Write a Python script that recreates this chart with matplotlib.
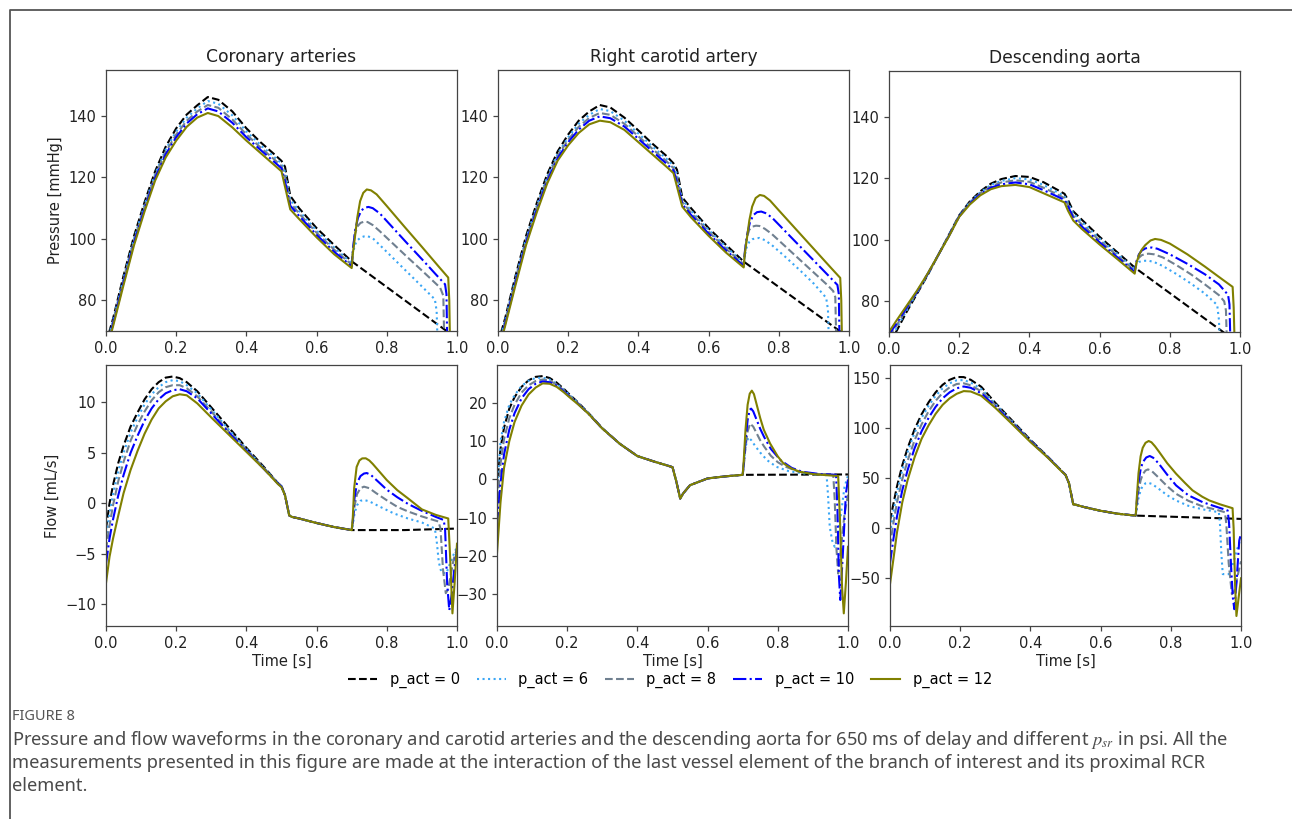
import matplotlib
matplotlib.use("Agg")
import matplotlib.pyplot as plt
from matplotlib.lines import Line2D

plt.rcParams['font.family'] = ['DejaVu Sans']
plt.rcParams['mathtext.fontset'] = 'stix'

# ---------------- data ----------------
labels = ["p_act = 0", "p_act = 6", "p_act = 8", "p_act = 10", "p_act = 12"]
colors = ["black", "#3aa6f5", "slategray", "blue", "olive"]
styles = ["--", ":", "--", "-.", "-"]

titles = ["Coronary arteries", "Right carotid artery", "Descending aorta"]
xticks = [0.0, 0.2, 0.4, 0.6, 0.8, 1.0]

# phase A time grids (0 -> 0.70 s)
TA_P = [0, 0.02, 0.05, 0.08, 0.11, 0.14, 0.17, 0.20, 0.23, 0.26, 0.29, 0.32, 0.36,
        0.40, 0.44, 0.48, 0.50, 0.51, 0.525, 0.55, 0.60, 0.65, 0.70]
TA_F = [0, 0.01, 0.02, 0.035, 0.05, 0.07, 0.09, 0.11, 0.13, 0.15, 0.17, 0.19, 0.21,
        0.23, 0.26, 0.30, 0.35, 0.40, 0.45, 0.49, 0.50, 0.51, 0.522, 0.53, 0.55,
        0.60, 0.65, 0.70]

# ---- Coronary pressure ----
cor_p_A = [
    [66, 74, 88, 101, 112, 122, 130, 136, 140.5, 143.5, 146.2, 145.3, 141.5, 136, 131.5, 127.5, 125.4, 123.5, 114, 110, 103.5, 98, 92.7],
    [65.2, 73.4, 87.2, 100.2, 111.2, 121.2, 129.1, 135, 139.5, 142.5, 144.9, 144, 140.2, 135, 130.6, 126.6, 124.6, 121.9, 112.9, 109.1, 102.7, 97.2, 92.1],
    [64.5, 72.8, 86.5, 99.5, 110.5, 120.5, 128.3, 134, 138.5, 141.5, 143.6, 142.7, 138.9, 134, 129.8, 125.8, 123.7, 120.3, 111.8, 108.3, 102, 96.5, 91.6],
    [63.8, 72.2, 85.8, 98.8, 109.8, 119.8, 127.5, 133.1, 137.6, 140.6, 142.5, 141.5, 137.8, 133.1, 129, 125, 123, 118.8, 110.8, 107.5, 101.3, 95.8, 91.1],
    [63, 71.5, 85, 98, 109, 119, 126.5, 132, 136.5, 139.5, 141, 140, 136.3, 132, 128, 124, 122, 117, 109.6, 106.5, 100.5, 95, 90.5],
]
cor_p_Bt = [
    [0.70, 1.0],
    [0.70, 0.704, 0.709, 0.716, 0.725, 0.735, 0.745, 0.76, 0.78, 0.82, 0.86, 0.90, 0.937, 0.942, 0.945, 1.0],
    [0.70, 0.704, 0.709, 0.716, 0.725, 0.735, 0.745, 0.76, 0.78, 0.82, 0.86, 0.90, 0.94, 0.952, 0.961, 0.964, 1.0],
    [0.70, 0.704, 0.71, 0.718, 0.728, 0.738, 0.748, 0.76, 0.78, 0.82, 0.86, 0.90, 0.94, 0.966, 0.970, 0.973, 1.0],
    [0.70, 0.703, 0.709, 0.716, 0.724, 0.733, 0.743, 0.755, 0.771, 0.80, 0.85, 0.90, 0.95, 0.975, 0.978, 0.981, 1.0],
]
cor_p_Bv = [
    [92.7, 67.5],
    [92.1, 95.5, 98, 99.5, 100.4, 100.8, 100.9, 100.2, 98, 93.5, 89, 84.5, 80.3, 76.5, 65, 50],
    [91.6, 97, 101.5, 104, 105.2, 105.6, 105.5, 104.5, 102.5, 98.2, 93.9, 89.7, 85.4, 84.1, 81.5, 65, 50],
    [91.1, 97, 103, 106.9, 109.3, 110.2, 110.4, 110, 108.3, 103.3, 98.3, 93.4, 88.4, 85.2, 82, 60, 50],
    [90.5, 95, 100.4, 107, 112.3, 115, 116.1, 115.8, 114.5, 110.7, 104, 97.4, 90.7, 87.4, 80, 60, 50],
]

# ---- Right carotid pressure ----
car_p_A = [
    [66, 74, 88, 101, 111.5, 121, 128.5, 134, 138.5, 141.5, 143.6, 142.8, 139.5, 135.3, 131, 127, 124.6, 122.5, 113.5, 110, 103.5, 98, 92.6],
    [65.2, 73.4, 87.2, 100.2, 110.7, 120.2, 127.7, 133.1, 137.5, 140.4, 142.3, 141.6, 138.5, 134.3, 130.1, 126.1, 123.8, 121.1, 112.8, 109.2, 102.9, 97.4, 92.1],
    [64.5, 72.8, 86.5, 99.5, 110, 119.5, 127, 132.3, 136.5, 139.4, 141, 140.4, 137.5, 133.4, 129.3, 125.3, 123, 119.8, 112, 108.5, 102.3, 96.8, 91.7],
    [63.8, 72.2, 85.8, 98.8, 109.3, 118.8, 126.3, 131.5, 135.6, 138.5, 139.9, 139.3, 136.6, 132.6, 128.5, 124.5, 122.3, 118.5, 111.3, 107.8, 101.7, 96.2, 91.2],
    [63, 71.5, 85, 98, 108.5, 118, 125.5, 130.5, 134.5, 137.3, 138.5, 138, 135.5, 131.5, 127.5, 123.5, 121.4, 117, 110.5, 107, 101, 95.5, 90.7],
]
car_p_Bt = [
    [0.70, 1.0],
    [0.70, 0.704, 0.709, 0.716, 0.725, 0.735, 0.745, 0.76, 0.78, 0.82, 0.86, 0.90, 0.935, 0.940, 0.943, 1.0],
    [0.70, 0.704, 0.709, 0.716, 0.725, 0.735, 0.745, 0.76, 0.78, 0.82, 0.86, 0.90, 0.94, 0.955, 0.961, 0.964, 1.0],
    [0.70, 0.704, 0.71, 0.718, 0.728, 0.738, 0.75, 0.762, 0.78, 0.82, 0.86, 0.90, 0.94, 0.967, 0.971, 0.974, 1.0],
    [0.70, 0.703, 0.709, 0.716, 0.724, 0.734, 0.746, 0.758, 0.775, 0.80, 0.85, 0.90, 0.95, 0.975, 0.978, 0.981, 1.0],
]
car_p_Bv = [
    [92.6, 67.8],
    [92.1, 95, 97.5, 99, 99.9, 100.2, 100.3, 99.6, 98, 94, 89.8, 85.4, 80.8, 77, 65, 50],
    [91.7, 96.5, 100.5, 103, 104, 104.3, 104.2, 103.3, 101.6, 97.4, 93.2, 89, 84.8, 83, 81, 65, 50],
    [91.2, 96.5, 101.5, 105.5, 107.8, 108.7, 108.9, 108.4, 107, 102.3, 97.6, 92.9, 88.2, 85, 82, 60, 50],
    [90.7, 95, 100, 106, 110.5, 113.3, 114.3, 114, 112.5, 109.3, 103, 96.7, 90.4, 87.3, 80, 60, 50],
]

# ---- Descending aorta pressure ----
aor_p_A = [
    [67, 70, 76.5, 82.5, 88.5, 95, 101.5, 108, 112.5, 115.8, 118.3, 119.8, 120.8, 120.5, 118.8, 116.3, 115, 113, 109.3, 106.5, 101, 96, 91],
    [67.8, 70.9, 77, 82.8, 88.6, 95, 101.4, 107.9, 112.3, 115.5, 117.9, 119.2, 120.1, 119.7, 117.9, 115.5, 114.3, 112.1, 108.6, 105.8, 100.4, 95.5, 90.5],
    [68.5, 71.8, 77.5, 83, 88.8, 95, 101.3, 107.8, 112, 115.2, 117.4, 118.7, 119.4, 118.9, 117, 114.8, 113.6, 111.3, 107.8, 105, 99.8, 94.9, 90],
    [69.2, 72.5, 77.9, 83.2, 88.9, 95, 101.1, 107.6, 111.8, 114.9, 117, 118.1, 118.7, 118.1, 116.2, 114.1, 113, 111, 107.1, 104.3, 99.2, 94.4, 89.6],
    [70, 73.5, 78.5, 83.5, 89, 95, 101, 107.5, 111.5, 114.5, 116.5, 117.5, 117.9, 117.2, 115.2, 113.2, 112.2, 109.5, 106.3, 103.5, 98.5, 93.8, 89],
]
aor_p_Bt = [
    [0.70, 1.0],
    [0.70, 0.705, 0.712, 0.72, 0.73, 0.74, 0.755, 0.78, 0.82, 0.86, 0.90, 0.935, 0.94, 0.943, 1.0],
    [0.70, 0.705, 0.712, 0.72, 0.73, 0.74, 0.755, 0.78, 0.82, 0.86, 0.90, 0.94, 0.955, 0.96, 0.963, 1.0],
    [0.70, 0.705, 0.712, 0.72, 0.73, 0.74, 0.75, 0.765, 0.80, 0.85, 0.90, 0.94, 0.966, 0.970, 0.973, 1.0],
    [0.70, 0.705, 0.712, 0.72, 0.73, 0.745, 0.758, 0.775, 0.80, 0.85, 0.90, 0.95, 0.979, 0.982, 0.985, 1.0],
]
aor_p_Bv = [
    [91, 66],
    [90.5, 92, 92.8, 93.1, 93.2, 93.2, 92.8, 91.5, 88.8, 85.8, 82.5, 78.8, 74, 65, 55],
    [90, 92.5, 94.2, 95, 95.4, 95.5, 95.3, 94.3, 91.7, 88.8, 85.5, 82, 80, 77, 65, 55],
    [89.6, 93, 95.3, 96.5, 97.2, 97.5, 97.5, 97.1, 95.3, 92.2, 88.8, 85.5, 82.1, 79, 65, 55],
    [89, 92.5, 95, 96.8, 98.3, 99.8, 100.3, 100, 98.8, 95.3, 91.3, 87.1, 84.7, 78, 65, 55],
]

# ---- Coronary flow ----
cor_f_A = [
    [-2.5, 0, 1.8, 4.0, 5.7, 7.6, 9.0, 10.3, 11.3, 12.0, 12.45, 12.56, 12.4, 12.0, 11.1, 9.5, 7.5, 5.5, 3.6, 2.0, 1.7, 0.8, -1.2, -1.35, -1.5, -1.95, -2.35, -2.65],
    [-3.5, -1.0, 0.9, 3.2, 5.0, 7.0, 8.5, 9.8, 10.8, 11.5, 12.0, 12.2, 12.1, 11.7, 10.9, 9.3, 7.3, 5.4, 3.5, 2.0, 1.7, 0.8, -1.2, -1.35, -1.5, -1.95, -2.35, -2.65],
    [-4.6, -2.2, -0.2, 2.2, 4.1, 6.2, 7.8, 9.1, 10.2, 11.0, 11.5, 11.7, 11.7, 11.4, 10.6, 9.1, 7.1, 5.3, 3.5, 2.0, 1.7, 0.8, -1.2, -1.35, -1.5, -1.95, -2.35, -2.65],
    [-6.0, -3.5, -1.6, 0.8, 2.8, 5.0, 6.7, 8.2, 9.4, 10.3, 10.9, 11.2, 11.3, 11.1, 10.4, 8.9, 7.0, 5.2, 3.4, 1.95, 1.65, 0.8, -1.2, -1.35, -1.5, -1.95, -2.35, -2.65],
    [-7.9, -5.3, -3.5, -1.2, 1.0, 3.3, 5.2, 6.9, 8.3, 9.4, 10.1, 10.6, 10.8, 10.7, 9.9, 8.5, 6.8, 5.1, 3.4, 1.9, 1.6, 0.8, -1.2, -1.35, -1.5, -1.95, -2.35, -2.65],
]
cor_f_Bt = [
    [0.70, 0.85, 1.0],
    [0.70, 0.703, 0.708, 0.715, 0.725, 0.735, 0.75, 0.78, 0.82, 0.86, 0.90, 0.937, 0.943, 0.948, 0.956, 0.97, 0.985, 1.0],
    [0.70, 0.703, 0.708, 0.715, 0.725, 0.735, 0.75, 0.77, 0.80, 0.83, 0.86, 0.90, 0.947, 0.953, 0.96, 0.968, 0.975, 0.99, 1.0],
    [0.70, 0.703, 0.708, 0.715, 0.725, 0.735, 0.743, 0.755, 0.78, 0.80, 0.83, 0.86, 0.90, 0.94, 0.962, 0.966, 0.972, 0.978, 0.985, 0.993, 1.0],
    [0.70, 0.703, 0.707, 0.714, 0.722, 0.73, 0.74, 0.75, 0.76, 0.78, 0.80, 0.83, 0.86, 0.90, 0.94, 0.975, 0.98, 0.987, 0.993, 1.0],
]
cor_f_Bv = [
    [-2.65, -2.65, -2.5],
    [-2.65, -2.2, -1.0, -0.2, 0.25, 0.33, 0.2, -0.33, -1.0, -1.5, -1.9, -2.5, -4, -5.8, -6.9, -6.9, -5.5, -4.3],
    [-2.65, -2.0, -0.3, 0.9, 1.5, 1.65, 1.5, 1.0, 0.3, -0.35, -0.8, -1.3, -1.8, -2.5, -6.5, -8.9, -8.5, -5.6, -4.5],
    [-2.65, -1.8, 0.5, 2.0, 2.7, 2.95, 3.0, 2.8, 2.0, 1.35, 0.6, -0.05, -0.75, -1.35, -1.65, -2.5, -8, -10.6, -9, -6.3, -4.5],
    [-2.65, -1.5, 1.5, 3.6, 4.25, 4.45, 4.46, 4.25, 3.9, 3.1, 2.3, 1.3, 0.5, -0.6, -1.15, -1.5, -5, -10.9, -8, -4],
]

# ---- Right carotid flow ----
car_f_A = [
    [-2, 8, 13.5, 18.5, 21.5, 24.2, 25.9, 26.8, 27.0, 26.5, 25.3, 23.7, 21.9, 20.2, 17.4, 13.4, 9.3, 6.1, 4.6, 3.5, 3.2, -0.2, -5.0, -3.7, -1.5, 0.26, 0.8, 1.2],
    [-4, 10, 15, 19.5, 22, 24.4, 25.8, 26.5, 26.6, 26.1, 25.0, 23.5, 21.8, 20.1, 17.4, 13.4, 9.3, 6.1, 4.6, 3.5, 3.2, -0.2, -5.0, -3.7, -1.5, 0.26, 0.8, 1.2],
    [-8, 4, 10.5, 16, 19.5, 22.7, 24.6, 25.7, 26.1, 25.8, 24.8, 23.3, 21.6, 20.0, 17.3, 13.3, 9.3, 6.1, 4.6, 3.5, 3.2, -0.2, -5.0, -3.7, -1.5, 0.26, 0.8, 1.2],
    [-12, -1, 6.5, 13, 17.3, 21.2, 23.6, 25.0, 25.6, 25.4, 24.5, 23.0, 21.4, 19.8, 17.2, 13.3, 9.3, 6.1, 4.6, 3.5, 3.2, -0.2, -5.0, -3.7, -1.5, 0.26, 0.8, 1.2],
    [-19.3, -6, 3, 10, 15, 19.3, 22.2, 24.0, 25.1, 25.0, 24.2, 22.8, 21.2, 19.7, 17.2, 13.3, 9.3, 6.1, 4.6, 3.5, 3.2, -0.2, -5.0, -3.7, -1.5, 0.26, 0.8, 1.2],
]
car_f_Bt = [
    [0.70, 1.0],
    [0.70, 0.703, 0.708, 0.716, 0.725, 0.735, 0.75, 0.77, 0.796, 0.83, 0.87, 0.91, 0.939, 0.943, 0.948, 0.955, 0.962, 0.97, 0.98, 0.99, 1.0],
    [0.70, 0.703, 0.708, 0.714, 0.721, 0.73, 0.74, 0.75, 0.761, 0.78, 0.80, 0.82, 0.86, 0.90, 0.958, 0.962, 0.967, 0.972, 0.98, 0.99, 1.0],
    [0.70, 0.703, 0.708, 0.714, 0.72, 0.724, 0.73, 0.74, 0.75, 0.761, 0.78, 0.808, 0.84, 0.87, 0.92, 0.966, 0.970, 0.974, 0.978, 0.985, 0.994, 1.0],
    [0.70, 0.703, 0.708, 0.714, 0.72, 0.726, 0.732, 0.74, 0.75, 0.76, 0.778, 0.80, 0.816, 0.84, 0.863, 0.90, 0.94, 0.972, 0.977, 0.983, 0.988, 0.994, 1.0],
]
car_f_Bv = [
    [1.2, 1.3],
    [1.2, 4, 8.5, 11.0, 10.2, 8.8, 7.0, 5.0, 3.3, 2.2, 1.6, 1.3, 1.1, -4, -12.4, -16, -17.6, -15, -9, -2, 1],
    [1.2, 3.5, 8.5, 12.5, 14.6, 13.8, 12, 10.2, 8.6, 6.2, 4.5, 3.4, 2.0, 1.5, 1.2, -5, -18, -24.6, -18, -9, -4],
    [1.2, 4, 10, 15.5, 18.2, 18.5, 17.8, 15.5, 13.2, 11.1, 8.0, 5.0, 3.0, 2.0, 1.4, 1.2, -8, -25, -31.5, -20, -3.7, 0],
    [1.2, 5, 13, 19.5, 22.4, 23.2, 22.3, 19.5, 16, 13, 9.4, 6.0, 4.2, 2.8, 2.0, 1.4, 1.1, 0.9, -10, -28, -35, -27, -17.6],
]

# ---- Descending aorta flow ----
aor_f_A = [
    [7.7, 25, 42, 63, 80, 99, 114, 126, 136, 143.5, 148.5, 151.3, 151.2, 148.5, 141.5, 125.5, 107, 88.5, 71.5, 57, 53.5, 45, 24, 23.5, 21.5, 17.5, 14.5, 12.7],
    [-5, 17, 36, 58, 76, 95.5, 110.5, 122.5, 132.5, 140, 145, 148, 148.2, 145.8, 139.2, 124.5, 106.3, 88, 71.3, 57, 53.5, 45, 24, 23.5, 21.5, 17.5, 14.5, 12.7],
    [-18, 6, 26, 49, 67.5, 88, 104, 117, 127.5, 135.5, 141, 144.3, 145, 143, 137, 123.3, 105.5, 87.5, 71, 57, 53.5, 45, 24, 23.5, 21.5, 17.5, 14.5, 12.7],
    [-35, -10, 12, 38, 58, 80, 97, 110.5, 121.5, 130, 136, 140, 141.8, 140.5, 135, 122, 104.5, 87, 70.8, 56.8, 53.5, 45, 24, 23.5, 21.5, 17.5, 14.5, 12.7],
    [-55.8, -30, -4, 26, 48, 71, 89.5, 103, 114.5, 123.5, 130, 134.5, 137.2, 136.8, 132.5, 120.5, 103.5, 86.3, 70.5, 56.5, 53.5, 45, 24, 23.5, 21.5, 17.5, 14.5, 12.7],
]
aor_f_Bt = [
    [0.70, 1.0],
    [0.70, 0.703, 0.708, 0.714, 0.72, 0.728, 0.735, 0.745, 0.76, 0.79, 0.815, 0.85, 0.89, 0.937, 0.940, 0.944, 0.948, 0.958, 0.966, 0.975, 0.99, 1.0],
    [0.70, 0.703, 0.708, 0.714, 0.72, 0.728, 0.735, 0.745, 0.76, 0.79, 0.815, 0.85, 0.89, 0.93, 0.954, 0.958, 0.965, 0.974, 0.982, 0.99, 1.0],
    [0.70, 0.703, 0.708, 0.714, 0.72, 0.73, 0.74, 0.75, 0.765, 0.79, 0.815, 0.85, 0.891, 0.93, 0.962, 0.966, 0.972, 0.977, 0.981, 0.987, 0.995, 1.0],
    [0.70, 0.703, 0.708, 0.714, 0.72, 0.728, 0.737, 0.745, 0.755, 0.767, 0.79, 0.815, 0.84, 0.862, 0.89, 0.91, 0.94, 0.976, 0.979, 0.983, 0.987, 0.993, 1.0],
]
aor_f_Bv = [
    [12.7, 9.4],
    [12.7, 19, 30, 38, 42.5, 45, 45.6, 44.5, 41, 33, 27.8, 22.5, 19, 16.1, 5, -25, -45.8, -46, -45.8, -38, -20, -9],
    [12.7, 22, 37, 48, 54, 57.8, 58.9, 57.5, 52.5, 42, 34.5, 27.5, 22, 18.5, 16.1, 5, -35, -65.9, -62, -48, -33],
    [12.7, 26, 46, 59, 66, 70.8, 72.3, 70.5, 65, 53.5, 42.9, 33, 26.1, 21.5, 17.8, 5, -40, -70, -80.9, -55, -12.3, -5],
    [12.7, 30, 55, 72, 80.5, 85.5, 87.3, 86, 82, 76.3, 65, 54.6, 45.5, 37.9, 31.5, 27.8, 24, 20.1, 0, -55, -87.7, -70, -50],
]

p_ylim = (70, 155)
p_yticks = [80, 100, 120, 140]
f_ylims = [(-12.15, 13.7), (-38.3, 29.9), (-97.7, 163.3)]
f_yticks = [[-10, -5, 0, 5, 10], [-30, -20, -10, 0, 10, 20], [-50, 0, 50, 100, 150]]

caption_title = "FIGURE 8"
caption_lines = [
    "Pressure and flow waveforms in the coronary and carotid arteries and the descending aorta for 650 ms of delay and different $p_{sr}$ in psi. All the",
    "measurements presented in this figure are made at the interaction of the last vessel element of the branch of interest and its proximal RCR",
    "element.",
]

# ---------------- figure ----------------
W, H = 1292, 819
fig = plt.figure(figsize=(W / 100, H / 100), dpi=100)

def px_axes(x0, y0, x1, y1):
    return fig.add_axes([x0 / W, 1 - y1 / H, (x1 - x0) / W, (y1 - y0) / H])

top_boxes = [(106, 70, 457, 331), (498, 70, 849, 331), (889, 71, 1240, 332)]
bot_boxes = [(106, 365, 457, 626), (497, 365, 848, 626), (890, 365, 1241, 626)]

p_data = [(cor_p_A, cor_p_Bt, cor_p_Bv), (car_p_A, car_p_Bt, car_p_Bv), (aor_p_A, aor_p_Bt, aor_p_Bv)]
f_data = [(cor_f_A, cor_f_Bt, cor_f_Bv), (car_f_A, car_f_Bt, car_f_Bv), (aor_f_A, aor_f_Bt, aor_f_Bv)]

spine_col = "#444444"
tick_fs = 10.5

def style_ax(ax):
    for s in ax.spines.values():
        s.set_color(spine_col)
        s.set_linewidth(0.9)
    ax.tick_params(axis='both', colors=spine_col, labelcolor="#222222",
                   labelsize=tick_fs, width=0.9, length=3.5)

def draw(ax, A, Bt, Bv, TA):
    handles = []
    for i in range(5):
        t = list(TA) + list(Bt[i][1:])
        v = list(A[i]) + list(Bv[i][1:])
        h, = ax.plot(t, v, linestyle=styles[i], color=colors[i], lw=1.5, label=labels[i])
        handles.append(h)
    return handles

handles = None
for j in range(3):
    ax = px_axes(*top_boxes[j])
    A, Bt, Bv = p_data[j]
    handles = draw(ax, A, Bt, Bv, TA_P)
    ax.set_xlim(0, 1)
    ax.set_ylim(*p_ylim)
    ax.set_xticks(xticks)
    ax.set_yticks(p_yticks)
    ax.set_title(titles[j], fontsize=12.3, color="#222222")
    style_ax(ax)
    if j == 0:
        ax.set_ylabel("Pressure [mmHg]", fontsize=tick_fs, color="#222222")

for j in range(3):
    ax = px_axes(*bot_boxes[j])
    A, Bt, Bv = f_data[j]
    draw(ax, A, Bt, Bv, TA_F)
    ax.set_xlim(0, 1)
    ax.set_ylim(*f_ylims[j])
    ax.set_xticks(xticks)
    ax.set_yticks(f_yticks[j])
    ax.set_xlabel("Time [s]", fontsize=tick_fs, color="#222222", labelpad=2)
    style_ax(ax)
    if j == 0:
        ax.set_ylabel("Flow [mL/s]", fontsize=tick_fs, color="#222222")

fig.legend(handles, labels, loc="center", bbox_to_anchor=(670 / W, 1 - 680 / H),
           ncol=5, frameon=False, fontsize=tick_fs, handlelength=2.0,
           columnspacing=1.15, handletextpad=0.85)

# frame of the figure panel
fig.add_artist(Line2D([10 / W, 10 / W, 1.0], [0.0, 1 - 10 / H, 1 - 10 / H],
                      transform=fig.transFigure, color="#555555", lw=1.3))

# caption
fig.text(12 / W, 1 - 717 / H, caption_title, fontsize=10.5, color="#555555",
         family=["Noto Sans", "DejaVu Sans"], va="center", ha="left")
for k, line in enumerate(caption_lines):
    fig.text(12 / W, 1 - (740 + 23 * k) / H, line, fontsize=13.2, color="#4a4a4a",
             family=["Noto Sans", "DejaVu Sans"], va="center", ha="left")

fig.savefig("out.png", dpi=100)
